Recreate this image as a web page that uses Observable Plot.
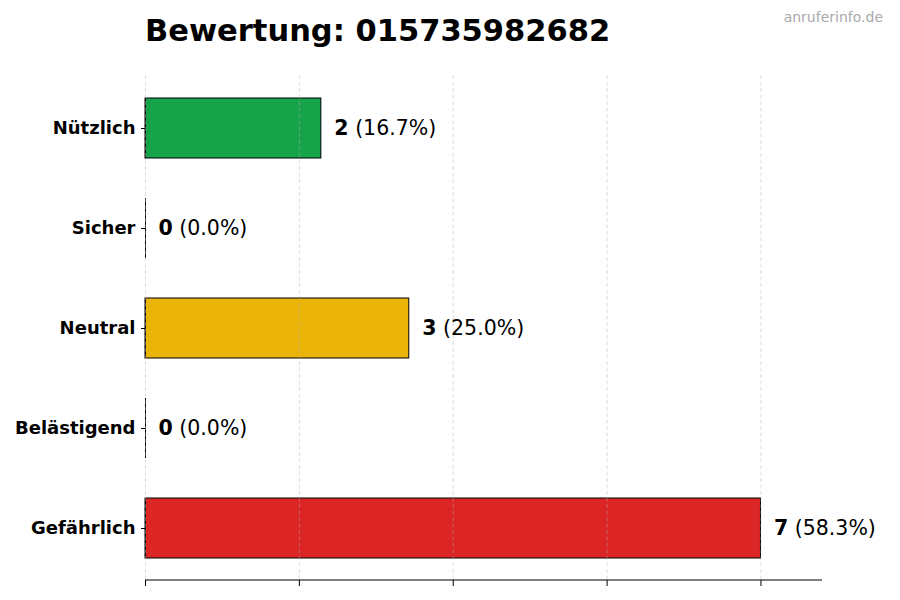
<!DOCTYPE html>
<html><head><meta charset="utf-8">
<script src="https://cdn.jsdelivr.net/npm/d3@7"></script>
<script src="https://cdn.jsdelivr.net/npm/@observablehq/plot@0.6"></script>
<style>
body{margin:0;background:#fff;font-family:"DejaVu Sans",sans-serif;}
#wrap{position:relative;width:900px;height:600px;overflow:hidden;}
#title{position:relative;height:75px;}
#title h1{position:absolute;left:145px;top:13px;margin:0;font-size:30.5px;line-height:36px;font-weight:bold;color:#000;white-space:nowrap;}
#wm{position:absolute;right:17px;top:9px;font-size:14px;line-height:16px;color:#aaa;}
#chart svg{display:block;}
</style></head>
<body><div id="wrap"><div id="title"><h1>Bewertung: 015735982682</h1><div id="wm">anruferinfo.de</div></div><div id="chart"></div></div>
<script>
const categories = ["Nützlich","Sicher","Neutral","Belästigend","Gefährlich"];
const counts = [2,0,3,0,7];
const colors = ["#16a34a","#3b82f6","#eab308","#f97316","#dc2626"];
const xTicks = [0,1.75,3.5,5.25,7];

const total = d3.sum(counts);
const data = categories.map((c,i)=>({category:c,count:counts[i],color:colors[i],pct:(counts[i]/total*100).toFixed(1)}));
const xMax = d3.max(counts)*1.1;

const plot = Plot.plot({
  width:900, height:525, marginLeft:145, marginRight:78, marginTop:0, marginBottom:20,
  style:{fontFamily:"DejaVu Sans", fontSize:"18px", color:"#000", background:"#fff"},
  x:{domain:[0,xMax], label:null},
  y:{domain:categories, paddingInner:0.4, paddingOuter:0.225, label:null},
  marks:[
    Plot.barX(data,{x:"count", y:"category", fill:"color", stroke:"#000", strokeWidth:1}),
    Plot.tickX(data,{x:d=>0, y:"category", stroke:"#000", strokeWidth:1}),
    Plot.ruleX(xTicks,{stroke:"#b0b0b0", strokeOpacity:0.55, strokeDasharray:"4,2.5", strokeWidth:0.8}),
    Plot.text(data,{x:"count", y:"category", text:d=>`${d.count} (${d.pct}%)`, dx:13, textAnchor:"start", fontSize:20.5, fill:"#000"}),
    Plot.axisY({tickSize:4, tickPadding:6, fontWeight:"bold", fontSize:18, label:null}),
    Plot.axisX({ticks:xTicks, tickSize:6, tickFormat:()=>"", label:null, stroke:"#000"})
  ]
});

d3.select(plot).selectAll('g[aria-label="text"] text').each(function(){
  const s = this.textContent; const i = s.indexOf(" ");
  const sel = d3.select(this); sel.text(null).style("white-space","pre");
  sel.append("tspan").attr("font-weight","bold").text(s.slice(0,i));
  sel.append("tspan").text(s.slice(i));
});

const xs = plot.scale("x");
d3.select(plot).append("line")
  .attr("x1", xs.range[0]).attr("x2", xs.range[1])
  .attr("y1", 505).attr("y2", 505)
  .attr("stroke","#000").attr("stroke-width",1);

document.getElementById("chart").appendChild(plot);
</script>
</body></html>
